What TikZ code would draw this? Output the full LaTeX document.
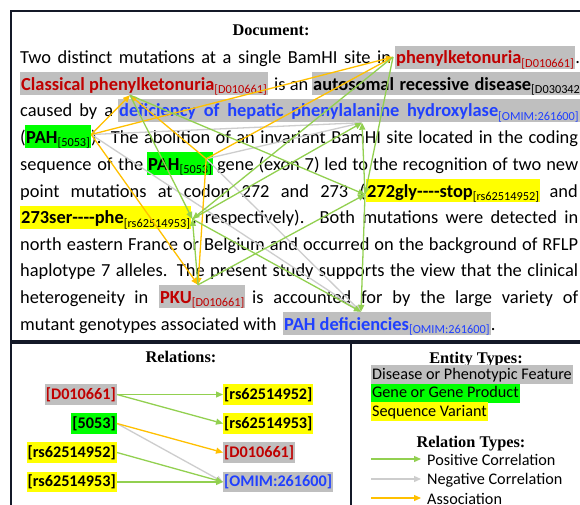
\documentclass[tikz,border=0pt]{standalone}
\usepackage{fontspec}
\setmainfont{Carlito}
\newfontfamily\ttlfont{Liberation Serif}
\usetikzlibrary{arrows.meta,calc}
\definecolor{disred}{RGB}{192,0,0}
\definecolor{omblue}{RGB}{32,64,255}
\definecolor{hlgray}{RGB}{191,191,191}
\definecolor{hlgreen}{RGB}{0,255,0}
\definecolor{hlyellow}{RGB}{255,255,0}
\definecolor{posc}{RGB}{146,208,80}
\definecolor{negc}{RGB}{205,205,205}
\definecolor{assc}{RGB}{255,192,0}
\definecolor{framec}{RGB}{20,25,40}
\newcommand{\docsz}{\fontsize{18.4pt}{22pt}\selectfont}
\newcommand{\subsz}{\fontsize{12.3pt}{13pt}\selectfont}
\newcommand{\relsz}{\fontsize{16.2pt}{19pt}\selectfont}
\newcommand{\esub}[1]{\raisebox{-3.5pt}{\subsz\mdseries #1}}
\newcommand{\jt}[2]{\makebox[#1pt][s]{#2}}
\newcommand{\hy}{\mbox{-}}
\begin{document}
\begin{tikzpicture}[x=1pt,y=-1pt,
  frame/.style={draw=framec,line width=1.4pt},
  ttl/.style={anchor=base,inner sep=0pt,font={\ttlfont\bfseries\fontsize{16.3pt}{18pt}\selectfont}},
  txt/.style={inner sep=0pt,anchor=base west,font=\docsz},
  ent/.style={inner xsep=1pt,inner ysep=0pt,text height=18pt,text depth=5pt,anchor=base west,font=\docsz},
  dis/.style={ent,fill=hlgray,text=disred},
  omim/.style={ent,fill=hlgray,text=omblue},
  gene/.style={ent,fill=hlgreen,text=black},
  var/.style={ent,fill=hlyellow,text=black},
  rel/.style={inner xsep=1pt,inner ysep=0pt,text height=15pt,text depth=5.5pt,font=\relsz\bfseries},
  leg/.style={inner xsep=1pt,inner ysep=0pt,text height=14pt,text depth=5pt,anchor=west,font=\relsz},
  legt/.style={inner sep=0pt,anchor=west,font=\relsz},
  tiparrow/.style={-{Triangle[length=7pt,width=6pt]}},
  posrel/.style={tiparrow,draw=posc,line width=1.3pt},
  negrel/.style={tiparrow,draw=negc,line width=1.3pt},
  assrel/.style={tiparrow,draw=assc,line width=1.3pt}]
\useasboundingbox (0,0) rectangle (580,504);
\clip (0,0) rectangle (580,504);
\fill[white] (0,0) rectangle (580,504);
% frames
\draw[frame] (11,11) rectangle (600,341);
\draw[frame] (11,343) rectangle (350.5,530);
\draw[frame] (351.5,343) rectangle (600,530);
% titles
\node[ttl] (tdoc) at (271,35) {Document:};
\node[ttl] (trel) at (181,362) {Relations:};
\node[ttl] (tent) at (476,363) {Entity Types:};
\node[ttl] (trty) at (471,447) {Relation Types:};
% document text
\node[txt] (l1a) at (20,63.5) {\jt{371}{Two distinct mutations at a single BamHI site in}};
\node[dis] (d1) at (395,63.5) {{\bfseries phenylketonuria}\esub{[D010661]}};
\node[txt] (l1b) at (d1.base east) {.};
\node[dis] (d2) at (20,90) {{\bfseries Classical phenylketonuria}\esub{[D010661]}};
\node[txt] (l2a) at (274,90) {is an};
\node[ent,fill=hlgray] (dx) at (312,90) {\makebox[218pt][s]{\bfseries autosomal recessive disease}\esub{[D030342]}};
\node[txt] (l3a) at (20,116.5) {\jt{93}{caused by a}};
\node[omim] (o1) at (118,116.5) {\makebox[379pt][s]{\bfseries deficiency of hepatic phenylalanine hydroxylase}\esub{[OMIM:261600]}};
\node[txt] (l4a) at (20,143) {(};
\node[gene] (g1) at (25,143) {{\bfseries PAH}\esub{[5053]}};
\node[txt] (l4b) at (91,143) {\jt{487}{). The abolition of an invariant BamHI site located in the coding}};
\node[txt] (l5a) at (20,170) {\jt{123}{sequence of the}};
\node[gene] (g2) at (147,170) {{\bfseries PAH}\esub{[5053]}};
\node[txt] (l5b) at (217,170) {\jt{361}{gene (exon 7) led to the recognition of two new}};
\node[txt] (l6a) at (20,197) {\jt{345}{point mutations at codon 272 and 273 (}};
\node[var] (v1) at (366,197) {{\bfseries 272gly\hy\hy\hy\hy stop}\esub{[rs62514952]}};
\node[txt,anchor=base east] (l6b) at (578,197) {and};
\node[var] (v2) at (20,223.5) {{\bfseries 273ser\hy\hy\hy\hy phe}\esub{[rs62514953]}};
\node[txt] (l7a) at (192,223.5) {\jt{386}{, respectively). Both mutations were detected in}};
\node[txt] (l8) at (20,250) {\jt{558}{north eastern France or Belgium and occurred on the background of RFLP}};
\node[txt] (l9) at (20,276.5) {\jt{558}{haplotype 7 alleles. The present study supports the view that the clinical}};
\node[txt] (l10a) at (20,303) {\jt{128}{heterogeneity in}};
\node[dis] (d3) at (159,303) {{\bfseries PKU}\esub{[D010661]}};
\node[txt] (l10b) at (252,303) {\jt{326}{is accounted for by the large variety of}};
\node[txt] (l11a) at (20,330) {mutant genotypes associated with};
\node[omim] (o2) at (283,330) {{\bfseries PAH deficiencies}\esub{[OMIM:261600]}};
\node[txt] (l11b) at (o2.base east) {.};
% attachment points
\coordinate (d1a) at ($(d1.west)+(-2,0)$);
\coordinate (d2a) at ($(d2.south west)+(110,0)$);
\coordinate (d3a) at ($(d3.north west)+(39,0)$);
\coordinate (g1a) at ($(g1.east)+(0,-2)$);
\coordinate (g2a) at ($(g2.north east)+(-7,7)$);
\coordinate (v1a) at ($(v1.west)+(-1,4)$);
\coordinate (v2a) at ($(v2.east)+(1,2)$);
\coordinate (o1a) at ($(o1.south west)+(244,1)$);
\coordinate (o2a) at ($(o2.north west)+(78,0)$);
% document connectors
\foreach \s in {g1a,g2a}{
  \draw[negrel] (\s) -- (o1a);
  \draw[negrel] (\s) -- (o2a);
}
\foreach \s in {g1a,g2a}{
  \foreach \t in {d1a,d2a,d3a}{\draw[assrel] (\s) -- (\t);}
}
\foreach \s in {d1a,d2a,d3a}{
  \draw[posrel] (\s) -- (v1a);
  \draw[posrel] (\s) -- (v2a);
}
\foreach \s in {v1a,v2a}{
  \draw[posrel] (\s) -- (o1a);
  \draw[posrel] (\s) -- (o2a);
}
% relations panel
\node[rel,anchor=east,fill=hlgray,text=disred] (rl1) at (117,394.5) {[D010661]};
\node[rel,anchor=east,fill=hlgreen] (rl2) at (117,423.5) {[5053]};
\node[rel,anchor=east,fill=hlyellow] (rl3) at (117,452.5) {[rs62514952]};
\node[rel,anchor=east,fill=hlyellow] (rl4) at (117,482) {[rs62514953]};
\node[rel,anchor=west,fill=hlyellow] (rr1) at (223,394.5) {[rs62514952]};
\node[rel,anchor=west,fill=hlyellow] (rr2) at (223,423.5) {[rs62514953]};
\node[rel,anchor=west,fill=hlgray,text=disred] (rr3) at (223,452.5) {[D010661]};
\node[rel,anchor=west,fill=hlgray,text=omblue] (rr4) at (223,482) {[OMIM:261600]};
\draw[posrel] (rl1.east) -- (rr1.west);
\draw[posrel] (rl1.east) -- (rr2.west);
\draw[negrel] (rl2.east) -- (rr4.west);
\draw[assrel] (rl2.east) -- (rr3.west);
\draw[posrel] (rl3.east) -- (rr4.west);
\draw[posrel] (rl4.east) -- (rr4.west);
% entity types legend
\node[leg,fill=hlgray] (ed) at (371,374.5) {Disease or Phenotypic Feature};
\node[leg,fill=hlgreen] (eg) at (371,393) {Gene or Gene Product};
\node[leg,fill=hlyellow] (ev) at (371,411.5) {Sequence Variant};
% relation types legend
\node[legt] (lpos) at (427,460) {Positive Correlation};
\node[legt] (lneg) at (427,480) {Negative Correlation};
\node[legt] (lass) at (427,499) {Association};
\coordinate (lp0) at (371,459); \coordinate (lp1) at (421,459);
\coordinate (ln0) at (371,479); \coordinate (ln1) at (421,479);
\coordinate (la0) at (371,498); \coordinate (la1) at (421,498);
\draw[posrel] (lp0) -- (lp1);
\draw[negrel] (ln0) -- (ln1);
\draw[assrel] (la0) -- (la1);
\end{tikzpicture}
\end{document}
